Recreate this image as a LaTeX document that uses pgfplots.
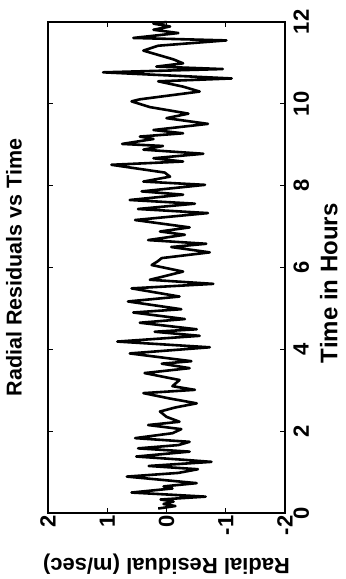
\documentclass[border=0pt]{standalone}
\usepackage{pgfplots}
\pgfplotsset{compat=1.18}
\usepackage{fontspec}
\setmainfont{Liberation Sans}
\begin{document}
\begin{tikzpicture}[rotate=90, transform shape]
\begin{axis}[
  scale only axis,
  width=491pt, height=237pt,
  xmin=0, xmax=12, ymin=-2, ymax=2,
  xtick={0,2,4,6,8,10,12},
  ytick={-2,-1,0,1,2},
  tick align=inside,
  major tick length=5pt,
  axis line style={line width=1.6pt},
  every tick/.style={line width=1.2pt, black},
  /pgf/number format/assume math mode=true,
  tick label style={font=\fontsize{22}{24}\selectfont\bfseries},
  xticklabel style={yshift=-5pt},
  yticklabel style={xshift=1pt},
  title={Radial Residuals vs Time},
  title style={font=\fontsize{21.5}{25}\selectfont\bfseries, at={(axis description cs:0.5,1.118)}, anchor=center},
  xlabel={Time in Hours},
  xlabel style={font=\fontsize{24}{26}\selectfont\bfseries, at={(axis description cs:0.468,-0.185)}, anchor=center},
  ylabel={Radial Residual (m/sec)},
  ylabel style={font=\fontsize{22}{25}\selectfont\bfseries, at={(axis description cs:-0.104,0.5)}, anchor=center},
  clip=false,
]
\path (rel axis cs:-0.1344,-0.2532) rectangle (rel axis cs:1.0448,1.2025);
\addplot[black, line width=2.6pt, line join=round] coordinates {
(0.11,0.14) (0.17,-0.15) (0.22,0.05) (0.28,-0.12) (0.33,0.10) (0.40,-0.66)
(0.50,0.59) (0.60,-0.10) (0.65,0.05) (0.73,-0.51) (0.89,0.67) (0.98,-0.20)
(1.07,-0.53) (1.15,0.30) (1.25,-0.76) (1.30,-0.30) (1.38,0.51) (1.50,-0.39)
(1.58,0.48) (1.66,-0.20) (1.74,-0.39) (1.83,0.53) (1.95,-0.10) (2.05,-0.25)
(2.15,0.31) (2.23,-0.22) (2.35,0.00) (2.48,0.11) (2.58,-0.15) (2.68,-0.51)
(2.80,-0.05) (2.93,0.39) (3.01,-0.48) (3.10,-0.10) (3.25,-0.22) (3.42,0.37)
(3.54,-0.39) (3.65,0.08) (3.71,-0.42) (3.90,0.62) (4.05,-0.73) (4.19,0.83)
(4.33,-0.56) (4.43,0.20) (4.49,-0.51) (4.65,0.45) (4.74,-0.31) (4.90,0.56)
(4.98,-0.25) (5.17,0.65) (5.29,-0.22) (5.49,0.59) (5.60,-0.79) (5.70,0.28)
(5.90,-0.28) (6.06,0.25) (6.15,0.15) (6.23,0.08) (6.37,-0.73) (6.50,-0.08)
(6.58,-0.67) (6.67,0.31) (6.80,-0.31) (6.88,0.11) (6.98,-0.39) (7.16,0.53)
(7.33,-0.70) (7.43,0.48) (7.56,-0.48) (7.65,0.62) (7.78,-0.28) (7.86,0.42)
(8.02,-0.65) (8.10,0.39) (8.22,-0.06) (8.32,0.03) (8.51,0.93) (8.59,-0.28)
(8.67,0.22) (8.78,-0.62) (8.88,0.39) (8.97,0.06) (9.02,0.75) (9.14,0.22)
(9.20,0.45) (9.28,-0.28) (9.36,0.22) (9.51,-0.70) (9.65,0.00) (9.76,-0.37)
(9.92,0.28) (10.06,0.59) (10.11,0.45) (10.30,-0.56) (10.42,-0.28) (10.55,0.14)
(10.62,-1.10) (10.77,1.07) (10.85,-0.95) (10.91,0.17) (10.99,-0.28) (11.09,-0.11)
(11.17,0.08) (11.30,0.39) (11.42,0.14) (11.55,-1.01) (11.61,0.56) (11.73,-0.20)
(11.81,0.22) (11.89,-0.06) (11.96,0.22) (12.00,0.00)
};
\end{axis}
\end{tikzpicture}
\end{document}
